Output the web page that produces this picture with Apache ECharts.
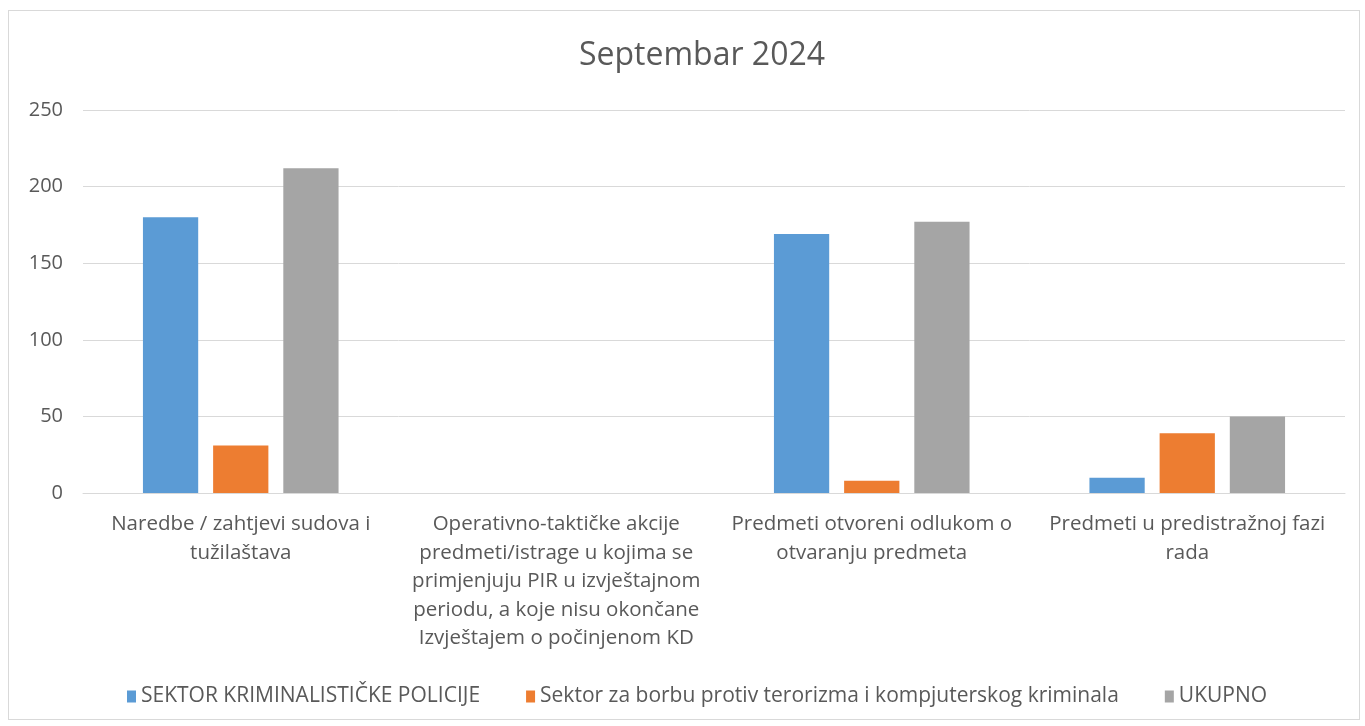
<!DOCTYPE html>
<html>
<head>
<meta charset="utf-8">
<script src="https://cdn.jsdelivr.net/npm/echarts@6/dist/echarts.min.js"></script>
<style>
  html, body { margin: 0; padding: 0; background: #fff; }
  #frame { position: absolute; left: 8px; top: 10px; width: 1352px; height: 710px; border: 1px solid #d9d9d9; box-sizing: border-box; }
  #chart { position: absolute; left: 0; top: 0; width: 1365px; height: 726px; }
</style>
</head>
<body>
<div id="frame"></div>
<div id="chart"></div>
<script>
// kategorije i vrijednosti
var categories = [
    'Naredbe / zahtjevi sudova i\ntužilaštava',
    'Operativno-taktičke akcije\npredmeti/istrage u kojima se\nprimjenjuju PIR u izvještajnom\nperiodu, a koje nisu okončane\nIzvještajem o počinjenom KD',
    'Predmeti otvoreni odlukom o\notvaranju predmeta',
    'Predmeti u predistražnoj fazi\nrada'
];
var seriesNames = ['SEKTOR KRIMINALISTIČKE POLICIJE', 'Sektor za borbu protiv terorizma i kompjuterskog kriminala', 'UKUPNO'];
var policija = [180, 0, 169, 10];
var terorizam = [31, 0, 8, 39];
var ukupno = [212, 0, 177, 50];
var yTicks = [0, 50, 100, 150, 200, 250];

var colors = ['#5b9bd5', '#ed7d31', '#a5a5a5'];
var fontFam = '"Open Sans", "Noto Sans", sans-serif';

var chart = echarts.init(document.getElementById('chart'));

var option = {
    animation: false,
    title: {
        text: 'Septembar 2024',
        left: 574,
        top: 35,
        textStyle: { fontFamily: fontFam, fontSize: 32, fontWeight: 'normal', color: '#595959' }
    },
    legend: {
        data: seriesNames,
        top: 681,
        left: 122,
        itemWidth: 9,
        itemHeight: 12,
        itemGap: 46,
        icon: 'rect',
        textStyle: { fontFamily: fontFam, fontSize: 21, color: '#595959' }
    },
    grid: { left: 83, right: 20, top: 110, bottom: 233, containLabel: false },
    xAxis: {
        type: 'category',
        data: categories,
        axisTick: { show: false },
        axisLine: { lineStyle: { color: '#d9d9d9', width: 1 } },
        axisLabel: {
            interval: 0,
            margin: 17,
            fontFamily: fontFam,
            fontSize: 20.5,
            lineHeight: 28.5,
            color: '#595959'
        }
    },
    yAxis: {
        type: 'value',
        min: yTicks[0],
        max: yTicks[yTicks.length - 1],
        interval: 50,
        axisLine: { show: false },
        axisTick: { show: false },
        splitLine: { lineStyle: { color: '#d9d9d9', width: 1 } },
        axisLabel: { margin: 20, fontFamily: fontFam, fontSize: 20, color: '#595959' }
    },
    series: [
        { name: seriesNames[0], type: 'bar', data: policija, barGap: '27%', barCategoryGap: '38%', itemStyle: { color: colors[0] } },
        { name: seriesNames[1], type: 'bar', data: terorizam, itemStyle: { color: colors[1] } },
        { name: seriesNames[2], type: 'bar', data: ukupno, itemStyle: { color: colors[2] } }
    ]
};
chart.setOption(option);
</script>
</body>
</html>
